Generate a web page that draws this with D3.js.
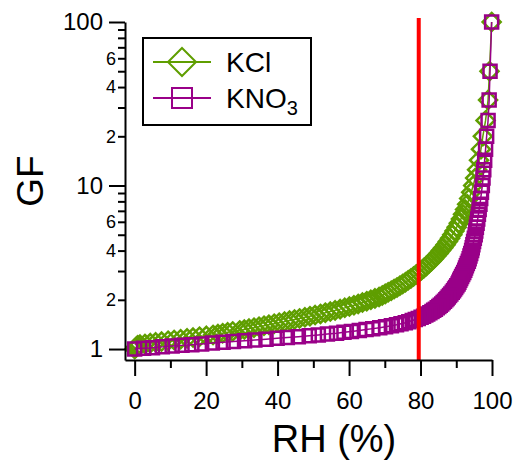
<!DOCTYPE html>
<html>
<head>
<meta charset="utf-8">
<script src="https://cdn.jsdelivr.net/npm/d3@7"></script>
<style>
body { margin: 0; background: #fff; }
svg { font-family: "Liberation Sans", Arial, sans-serif; }
</style>
</head>
<body>
<svg width="519" height="465"></svg>
<script>
// growth factor values (shared by both salts) and the RH where each is reached
let gf = [100, 50, 33.33, 25, 20, 16.67, 14.29, 12.5, 11.11, 10,
    9.091, 8.333, 7.692, 7.143, 6.667, 6.25, 5.882, 5.556, 5.263, 5,
    4.762, 4.545, 4.348, 4.167, 4, 3.846, 3.704, 3.571, 3.448, 3.333,
    3.226, 3.125, 3.030, 2.941, 2.857, 2.778, 2.703, 2.632, 2.564, 2.5,
    2.439, 2.381, 2.326, 2.273, 2.222, 2.174, 2.128, 2.083, 2.041, 2,
    1.961, 1.923, 1.887, 1.852, 1.818, 1.786, 1.754, 1.724, 1.695, 1.667,
    1.639, 1.613, 1.587, 1.563, 1.538, 1.515, 1.493, 1.471, 1.449, 1.429,
    1.408, 1.389, 1.370, 1.351, 1.333, 1.316, 1.299, 1.282, 1.266, 1.25,
    1.235, 1.220, 1.205, 1.190, 1.176, 1.163, 1.149, 1.136, 1.124, 1.111,
    1.099, 1.087, 1.075, 1.064, 1.053, 1.042, 1.031, 1.020, 1.010, 1];

let rhKCl = [99.9, 99.3, 98.9, 98.2, 97.44, 96.91, 96.37, 95.83, 95.29, 94.74,
    94.18, 93.62, 93.05, 92.47, 91.89, 91.3, 90.71, 90.11, 89.5, 88.89,
    88.27, 87.64, 87.01, 86.36, 85.71, 85.06, 84.39, 83.72, 83.04, 82.35,
    81.66, 80.95, 80.24, 79.52, 78.79, 78.05, 77.3, 76.55, 75.78, 75.0,
    74.21, 73.42, 72.62, 71.8, 70.96, 70.13, 69.29, 68.4, 67.25, 66.1,
    64.95, 63.75, 62.55, 61.37, 60.1, 58.8, 57.5, 56.1, 54.75, 53.35,
    52.0, 50.5, 49.05, 47.65, 46.15, 44.75, 43.35, 41.95, 40.45, 39.05,
    37.55, 36.2, 34.8, 33.4, 32.0, 30.7, 29.4, 27.43, 26.03, 24.63,
    23.31, 21.94, 20.07, 18.14, 16.34, 14.67, 12.86, 11.04, 9.36, 7.54,
    5.88, 4.38, 2.88, 1.5, 0.88, 0.7, 0.52, 0.34, 0.17, 0];

let rhKNO3 = [99.9, 99.45, 99.2, 98.9, 98.5, 98.2, 97.95, 97.7, 97.48, 97.3,
    97.05, 96.84, 96.63, 96.41, 96.2, 96.01, 95.83, 95.63, 95.46, 95.3,
    95.06, 94.85, 94.65, 94.47, 94.3, 94.05, 93.83, 93.61, 93.38, 93.1,
    92.84, 92.6, 92.37, 92.09, 91.79, 91.5, 91.23, 90.98, 90.73, 90.5,
    90.16, 89.83, 89.53, 89.23, 88.88, 88.49, 88.12, 87.76, 87.43, 87.1,
    86.71, 86.33, 85.94, 85.52, 85.12, 84.68, 84.16, 83.68, 83.2, 82.61,
    82.02, 81.47, 80.84, 80.16, 79.37, 78.54, 77.69, 76.72, 75.74, 74.54,
    73.28, 71.85, 70.22, 68.59, 66.63, 64.76, 62.87, 60.66, 58.58, 56.5,
    53.95, 51.4, 48.85, 45.8, 42.72, 39.86, 36.76, 33.64, 30.76, 27.64,
    24.75, 21.75, 18.75, 16.0, 13.25, 10.5, 7.75, 5.0, 2.5, 0];

let majorY = [1, 10, 100];
let minorY = [2, 3, 4, 5, 6, 7, 8, 9, 20, 30, 40, 50, 60, 70, 80, 90];
let labelledMinorY = [2, 4, 6, 20, 40, 60];
let majorX = [0, 20, 40, 60, 80, 100];
let minorX = [10, 30, 50, 70, 90];
let markerRH = 79.5;

let green = "#5f9e00";
let purple = "#990088";

let svg = d3.select("svg");

let x = d3.scaleLinear().domain([-2.7, 100]).range([125, 492]);
let y = d3.scaleLog().domain([0.857, 100]).range([360, 22]);

function diamond(r) {
    return "M0," + (-r) + "L" + r + ",0L0," + r + "L" + (-r) + ",0Z";
}
function square(r) {
    return "M" + (-r) + "," + (-r) + "H" + r + "V" + r + "H" + (-r) + "Z";
}

let series = [
    { rh: rhKCl, color: green, shape: diamond(9) },
    { rh: rhKNO3, color: purple, shape: square(6.5) }
];

let line = d3.line()
    .x(function (d) { return x(d[0]); })
    .y(function (d) { return y(d[1]); });

series.forEach(function (s) {
    let pts = s.rh.map(function (r, i) { return [r, gf[i]]; });
    let g = svg.append("g");
    g.append("path")
        .attr("d", line(pts))
        .attr("fill", "none")
        .attr("stroke", s.color)
        .attr("stroke-width", 1.5);
    g.selectAll("path.mark")
        .data(pts)
        .enter()
        .append("path")
        .attr("class", "mark")
        .attr("transform", function (d) { return "translate(" + x(d[0]) + "," + y(d[1]) + ")"; })
        .attr("d", s.shape)
        .attr("fill", "none")
        .attr("stroke", s.color)
        .attr("stroke-width", 2.5);
});

// red line
svg.append("line")
    .attr("x1", x(markerRH)).attr("x2", x(markerRH))
    .attr("y1", 18).attr("y2", 360)
    .attr("stroke", "#ff0000")
    .attr("stroke-width", 4);

// axes
let xMajor = svg.append("g")
    .attr("transform", "translate(0,360)")
    .call(d3.axisBottom(x).tickValues(majorX).tickSize(16).tickSizeOuter(0).tickPadding(16));
let xMinor = svg.append("g")
    .attr("transform", "translate(0,360)")
    .call(d3.axisBottom(x).tickValues(minorX).tickSize(8).tickFormat(""));
xMinor.select(".domain").remove();

let yMajor = svg.append("g")
    .attr("transform", "translate(125,0)")
    .call(d3.axisLeft(y).tickValues(majorY).tickSize(16).tickSizeOuter(0).tickPadding(6)
        .tickFormat(d3.format("d")));
let yMinor = svg.append("g")
    .attr("transform", "translate(125,0)")
    .call(d3.axisLeft(y).tickValues(minorY).tickSize(7).tickPadding(2)
        .tickFormat(function (d) {
            if (labelledMinorY.indexOf(d) < 0) return "";
            return d >= 10 ? d / 10 : d;
        }));
yMinor.select(".domain").remove();

svg.selectAll(".domain, .tick line")
    .attr("stroke", "#000")
    .attr("stroke-width", 2);
xMajor.selectAll("text").attr("font-size", 24).attr("fill", "#000").style("font-family", "Liberation Sans, Arial");
yMajor.selectAll("text").attr("font-size", 24).attr("fill", "#000").style("font-family", "Liberation Sans, Arial");
yMinor.selectAll("text").attr("font-size", 18).attr("fill", "#000").style("font-family", "Liberation Sans, Arial");

// axis titles
svg.append("text")
    .attr("x", 334).attr("y", 452)
    .attr("text-anchor", "middle")
    .attr("font-size", 38)
    .text("RH (%)");
svg.append("text")
    .attr("transform", "translate(43,181) rotate(-90)")
    .attr("text-anchor", "middle")
    .attr("font-size", 37)
    .text("GF");

// legend
let legend = svg.append("g");
legend.append("rect")
    .attr("x", 143).attr("y", 38)
    .attr("width", 168).attr("height", 87)
    .attr("fill", "#fff")
    .attr("stroke", "#000")
    .attr("stroke-width", 2);
let legendItems = [
    { color: green, shape: diamond(14), y: 62, label: "KCl", sub: "" },
    { color: purple, shape: square(10), y: 98, label: "KNO", sub: "3" }
];
legendItems.forEach(function (d) {
    legend.append("line")
        .attr("x1", 153).attr("x2", 211)
        .attr("y1", d.y).attr("y2", d.y)
        .attr("stroke", d.color).attr("stroke-width", 2);
    legend.append("path")
        .attr("transform", "translate(182," + d.y + ")")
        .attr("d", d.shape)
        .attr("fill", "none")
        .attr("stroke", d.color).attr("stroke-width", 2);
    let t = legend.append("text")
        .attr("x", 226).attr("y", d.y + 10)
        .attr("font-size", 28)
        .text(d.label);
    if (d.sub) {
        t.append("tspan")
            .attr("font-size", 20)
            .attr("dy", 7)
            .text(d.sub);
    }
});
</script>
</body>
</html>
